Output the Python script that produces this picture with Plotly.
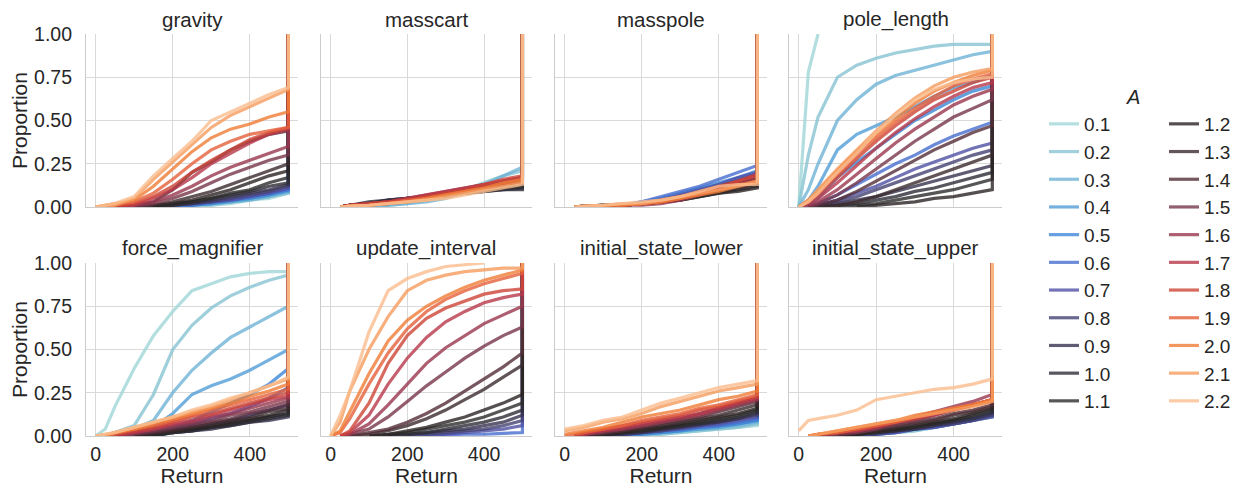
import plotly.graph_objects as go
from plotly.subplots import make_subplots

# ---------------- data ----------------
RETURNS = [0, 25, 50, 100, 150, 200, 250, 300, 350, 400, 450, 500]
MAX_RETURN = 500
FINAL_PROPORTION = 1.0
A_VALUES = ["0.1", "0.2", "0.3", "0.4", "0.5", "0.6", "0.7", "0.8", "0.9", "1.0", "1.1",
            "1.2", "1.3", "1.4", "1.5", "1.6", "1.7", "1.8", "1.9", "2.0", "2.1", "2.2"]
PANEL_TITLES = ["gravity", "masscart", "masspole", "pole_length",
                "force_magnifier", "update_interval", "initial_state_lower", "initial_state_upper"]
X_TICKS = [0, 200, 400]
Y_TICKS = [0, 0.25, 0.5, 0.75, 1.0]
N = None

GRAVITY = [
    [0, 0, 0, 0, 0, 0, 0.01, 0.01, 0.02, 0.04, 0.05, 0.08],
    [0, 0, 0, 0, 0, 0, 0.01, 0.01, 0.03, 0.04, 0.06, 0.08],
    [0, 0, 0, 0, 0, 0, 0.01, 0.02, 0.03, 0.04, 0.06, 0.09],
    [0, 0, 0, 0, 0, 0, 0.01, 0.02, 0.03, 0.05, 0.07, 0.09],
    [0, 0, 0, 0, 0, 0, 0.01, 0.02, 0.04, 0.05, 0.07, 0.10],
    [0, 0, 0, 0, 0, 0.01, 0.01, 0.03, 0.04, 0.06, 0.08, 0.10],
    [0, 0, 0, 0, 0, 0.01, 0.02, 0.03, 0.04, 0.06, 0.08, 0.11],
    [0, 0, 0, 0, 0, 0.01, 0.02, 0.03, 0.05, 0.07, 0.09, 0.12],
    [0, 0, 0, 0, 0, 0.01, 0.02, 0.04, 0.06, 0.08, 0.10, 0.13],
    [0, 0, 0, 0, 0, 0.01, 0.03, 0.05, 0.07, 0.09, 0.12, 0.14],
    [0, 0, 0, 0, 0, 0.02, 0.03, 0.05, 0.08, 0.10, 0.14, 0.17],
    [0, 0, 0, 0, 0.01, 0.02, 0.04, 0.07, 0.10, 0.14, 0.18, 0.21],
    [0, 0, 0, 0, 0.01, 0.03, 0.06, 0.09, 0.13, 0.17, 0.21, 0.25],
    [0, 0, 0, 0.01, 0.03, 0.10, 0.20, 0.26, 0.33, 0.38, 0.42, 0.44],
    [0, 0, 0, 0, 0.02, 0.05, 0.09, 0.14, 0.19, 0.23, 0.27, 0.30],
    [0, 0, 0, 0.01, 0.03, 0.07, 0.12, 0.18, 0.23, 0.27, 0.31, 0.35],
    [0, 0, 0, 0.01, 0.05, 0.10, 0.17, 0.25, 0.31, 0.37, 0.42, 0.45],
    [0, 0, 0, 0.02, 0.06, 0.12, 0.20, 0.27, 0.33, 0.39, 0.43, 0.46],
    [0, 0, 0.01, 0.03, 0.08, 0.16, 0.25, 0.33, 0.38, 0.42, 0.44, 0.46],
    [0, 0.01, 0.02, 0.04, 0.12, 0.22, 0.32, 0.40, 0.45, 0.48, 0.52, 0.55],
    [0, 0.01, 0.01, 0.05, 0.16, 0.26, 0.36, 0.46, 0.53, 0.58, 0.63, 0.68],
    [0, 0.01, 0.02, 0.06, 0.18, 0.28, 0.38, 0.50, 0.55, 0.60, 0.65, 0.69],
]

MASSCART = [
    [0, 0, 0, 0.01, 0.02, 0.03, 0.04, 0.06, 0.09, 0.12, 0.15, 0.17],
    [0, 0, 0, 0, 0.01, 0.02, 0.04, 0.07, 0.10, 0.14, 0.18, 0.21],
    [0, 0, 0, 0, 0.01, 0.02, 0.03, 0.05, 0.09, 0.13, 0.18, 0.23],
    [0, 0, 0.005, 0.01, 0.02, 0.03, 0.05, 0.07, 0.09, 0.12, 0.15, 0.17],
    [0, 0, 0.005, 0.01, 0.02, 0.04, 0.05, 0.07, 0.09, 0.11, 0.13, 0.15],
    [0, 0, 0.01, 0.02, 0.03, 0.04, 0.06, 0.08, 0.10, 0.12, 0.14, 0.16],
    [0, 0, 0.01, 0.02, 0.03, 0.04, 0.05, 0.07, 0.09, 0.11, 0.13, 0.14],
    [0, 0, 0.01, 0.02, 0.04, 0.05, 0.06, 0.07, 0.09, 0.10, 0.11, 0.12],
    [0, 0, 0.01, 0.02, 0.04, 0.05, 0.06, 0.07, 0.08, 0.09, 0.10, 0.11],
    [0, 0, 0.01, 0.03, 0.04, 0.05, 0.06, 0.07, 0.08, 0.09, 0.10, 0.10],
    [0, 0, 0.01, 0.02, 0.03, 0.04, 0.05, 0.06, 0.08, 0.09, 0.11, 0.12],
    [0, 0, 0.01, 0.02, 0.03, 0.04, 0.05, 0.07, 0.08, 0.10, 0.12, 0.14],
    [0, 0, 0.01, 0.02, 0.03, 0.05, 0.06, 0.08, 0.10, 0.12, 0.14, 0.16],
    [0, 0, 0.01, 0.02, 0.03, 0.04, 0.06, 0.08, 0.10, 0.12, 0.13, 0.15],
    [0, 0, 0.01, 0.02, 0.03, 0.04, 0.06, 0.08, 0.10, 0.12, 0.14, 0.16],
    [0, 0, 0.01, 0.02, 0.03, 0.05, 0.07, 0.09, 0.11, 0.13, 0.15, 0.17],
    [0, 0, 0.01, 0.02, 0.03, 0.05, 0.07, 0.09, 0.11, 0.13, 0.15, 0.17],
    [0, 0, 0.01, 0.02, 0.03, 0.04, 0.06, 0.08, 0.10, 0.13, 0.16, 0.18],
    [0, 0, 0.005, 0.01, 0.02, 0.04, 0.05, 0.07, 0.09, 0.11, 0.13, 0.15],
    [0, 0, 0.005, 0.01, 0.02, 0.03, 0.05, 0.07, 0.09, 0.11, 0.14, 0.16],
    [0, 0, 0.005, 0.01, 0.02, 0.03, 0.04, 0.06, 0.08, 0.10, 0.12, 0.14],
    [0, 0, 0.005, 0.01, 0.02, 0.03, 0.04, 0.05, 0.07, 0.09, 0.11, 0.13],
]

MASSPOLE = [
    [0, 0, 0, 0, 0.01, 0.02, 0.03, 0.05, 0.07, 0.10, 0.12, 0.14],
    [0, 0, 0, 0, 0.01, 0.02, 0.03, 0.05, 0.08, 0.11, 0.13, 0.15],
    [0, 0, 0, 0.005, 0.01, 0.02, 0.04, 0.06, 0.09, 0.12, 0.14, 0.16],
    [0, 0, 0, 0.005, 0.01, 0.02, 0.04, 0.07, 0.10, 0.13, 0.16, 0.19],
    [0, 0, 0, 0.005, 0.01, 0.03, 0.05, 0.08, 0.11, 0.14, 0.17, 0.21],
    [0, 0, 0, 0.005, 0.01, 0.03, 0.06, 0.09, 0.12, 0.16, 0.20, 0.24],
    [0, 0, 0, 0.005, 0.01, 0.02, 0.04, 0.07, 0.10, 0.13, 0.17, 0.20],
    [0, 0, 0.005, 0.01, 0.01, 0.02, 0.04, 0.06, 0.09, 0.12, 0.15, 0.18],
    [0, 0, 0.005, 0.01, 0.01, 0.02, 0.03, 0.05, 0.08, 0.11, 0.14, 0.17],
    [0, 0, 0.005, 0.01, 0.01, 0.02, 0.03, 0.05, 0.07, 0.09, 0.12, 0.14],
    [0, 0, 0.005, 0.01, 0.01, 0.02, 0.03, 0.04, 0.06, 0.08, 0.10, 0.12],
    [0, 0, 0.005, 0.01, 0.01, 0.02, 0.03, 0.04, 0.06, 0.08, 0.09, 0.11],
    [0, 0, 0, 0.005, 0.01, 0.02, 0.03, 0.05, 0.07, 0.09, 0.11, 0.13],
    [0, 0, 0, 0.005, 0.01, 0.02, 0.03, 0.05, 0.07, 0.10, 0.13, 0.15],
    [0, 0, 0, 0.005, 0.01, 0.02, 0.03, 0.05, 0.08, 0.11, 0.14, 0.17],
    [0, 0, 0, 0.005, 0.01, 0.01, 0.02, 0.04, 0.07, 0.10, 0.13, 0.16],
    [0, 0, 0, 0.005, 0.01, 0.02, 0.03, 0.05, 0.08, 0.11, 0.15, 0.19],
    [0, 0, 0, 0.005, 0.01, 0.02, 0.04, 0.06, 0.09, 0.12, 0.15, 0.18],
    [0, 0, 0, 0.005, 0.01, 0.02, 0.03, 0.05, 0.08, 0.10, 0.13, 0.15],
    [0, 0, 0.005, 0.01, 0.01, 0.02, 0.03, 0.05, 0.07, 0.09, 0.12, 0.14],
    [0, 0, 0.005, 0.01, 0.02, 0.02, 0.04, 0.06, 0.08, 0.10, 0.12, 0.15],
    [0, 0, 0.005, 0.01, 0.02, 0.03, 0.04, 0.06, 0.09, 0.12, 0.13, 0.13],
]

POLE_LENGTH = [
    [0, 0.78, 1.0, N, N, N, N, N, N, N, N, N],
    [0, 0.30, 0.52, 0.75, 0.82, 0.86, 0.89, 0.91, 0.93, 0.94, 0.94, 0.94],
    [0, 0.10, 0.25, 0.50, 0.62, 0.71, 0.76, 0.79, 0.82, 0.85, 0.88, 0.90],
    [0, 0.04, 0.12, 0.33, 0.42, 0.47, 0.52, 0.58, 0.64, 0.69, 0.72, 0.76],
    [0, 0.01, 0.05, 0.17, 0.26, 0.34, 0.42, 0.50, 0.56, 0.62, 0.67, 0.70],
    [0, 0, 0.02, 0.07, 0.13, 0.19, 0.25, 0.30, 0.36, 0.41, 0.45, 0.49],
    [0, 0, 0.01, 0.04, 0.08, 0.12, 0.17, 0.22, 0.26, 0.30, 0.34, 0.37],
    [0, 0, 0.01, 0.03, 0.06, 0.10, 0.14, 0.18, 0.22, 0.26, 0.30, 0.33],
    [0, 0, 0, 0.02, 0.04, 0.06, 0.09, 0.12, 0.15, 0.18, 0.21, 0.24],
    [0, 0, 0, 0.01, 0.02, 0.04, 0.06, 0.09, 0.11, 0.14, 0.17, 0.20],
    [0, 0, 0, 0, 0.01, 0.02, 0.04, 0.06, 0.08, 0.10, 0.13, 0.16],
    [0, 0, 0, 0, 0, 0.01, 0.02, 0.03, 0.05, 0.06, 0.08, 0.10],
    [0, 0, 0, 0.01, 0.03, 0.06, 0.10, 0.14, 0.18, 0.22, 0.26, 0.30],
    [0, 0, 0.01, 0.04, 0.09, 0.15, 0.21, 0.27, 0.33, 0.38, 0.43, 0.47],
    [0, 0, 0.02, 0.07, 0.14, 0.22, 0.30, 0.38, 0.45, 0.52, 0.57, 0.62],
    [0, 0.01, 0.03, 0.10, 0.19, 0.28, 0.37, 0.45, 0.52, 0.59, 0.64, 0.68],
    [0, 0.02, 0.05, 0.14, 0.24, 0.34, 0.43, 0.51, 0.58, 0.64, 0.69, 0.72],
    [0, 0.03, 0.07, 0.17, 0.28, 0.38, 0.47, 0.55, 0.62, 0.67, 0.72, 0.75],
    [0, 0.03, 0.08, 0.19, 0.30, 0.40, 0.49, 0.57, 0.64, 0.70, 0.74, 0.77],
    [0, 0.04, 0.09, 0.21, 0.32, 0.42, 0.51, 0.60, 0.67, 0.72, 0.76, 0.79],
    [0, 0.04, 0.10, 0.22, 0.33, 0.44, 0.54, 0.63, 0.70, 0.75, 0.78, 0.80],
    [0, 0.03, 0.08, 0.20, 0.31, 0.43, 0.53, 0.62, 0.68, 0.72, 0.74, 0.75],
]

FORCE_MAGNIFIER = [
    [0, 0.04, 0.17, 0.39, 0.58, 0.72, 0.84, 0.88, 0.92, 0.94, 0.95, 0.95],
    [0, 0, 0.02, 0.06, 0.24, 0.50, 0.64, 0.74, 0.81, 0.86, 0.90, 0.93],
    [0, 0, 0.01, 0.04, 0.09, 0.25, 0.38, 0.48, 0.57, 0.63, 0.69, 0.75],
    [0, 0, 0, 0.02, 0.05, 0.13, 0.24, 0.29, 0.33, 0.38, 0.44, 0.50],
    [0, 0, 0, 0, 0.02, 0.05, 0.09, 0.14, 0.19, 0.24, 0.30, 0.39],
    [0, 0, 0, 0, 0.02, 0.04, 0.07, 0.10, 0.13, 0.17, 0.22, 0.28],
    [0, 0, 0, 0, 0.01, 0.03, 0.05, 0.07, 0.09, 0.12, 0.15, 0.18],
    [0, 0, 0, 0, 0, 0.02, 0.03, 0.05, 0.07, 0.09, 0.11, 0.13],
    [0, 0, 0, 0, 0, 0.02, 0.03, 0.04, 0.06, 0.08, 0.09, 0.11],
    [0, 0, 0, 0, 0, 0.02, 0.03, 0.05, 0.06, 0.08, 0.10, 0.12],
    [0, 0, 0, 0, 0.01, 0.02, 0.04, 0.05, 0.07, 0.09, 0.11, 0.13],
    [0, 0, 0, 0, 0.01, 0.03, 0.04, 0.06, 0.08, 0.10, 0.12, 0.15],
    [0, 0, 0, 0, 0.02, 0.03, 0.05, 0.07, 0.09, 0.11, 0.14, 0.16],
    [0, 0, 0, 0.01, 0.02, 0.04, 0.06, 0.08, 0.10, 0.13, 0.15, 0.18],
    [0, 0, 0, 0.01, 0.03, 0.05, 0.07, 0.09, 0.12, 0.14, 0.17, 0.20],
    [0, 0, 0, 0.02, 0.04, 0.06, 0.08, 0.11, 0.13, 0.16, 0.19, 0.22],
    [0, 0, 0, 0.02, 0.04, 0.07, 0.09, 0.12, 0.15, 0.18, 0.21, 0.23],
    [0, 0, 0.01, 0.03, 0.05, 0.08, 0.11, 0.13, 0.16, 0.19, 0.22, 0.25],
    [0, 0, 0.01, 0.04, 0.06, 0.09, 0.12, 0.15, 0.18, 0.21, 0.24, 0.27],
    [0, 0, 0.02, 0.04, 0.07, 0.10, 0.13, 0.16, 0.19, 0.23, 0.26, 0.30],
    [0, 0.01, 0.02, 0.05, 0.08, 0.11, 0.14, 0.17, 0.21, 0.25, 0.29, 0.33],
    [0, 0.01, 0.02, 0.05, 0.08, 0.11, 0.15, 0.18, 0.22, 0.25, 0.29, 0.34],
]

UPDATE_INTERVAL = [
    [N, N, N, N, N, N, N, N, N, N, N, N],
    [N, N, N, N, N, N, N, N, N, N, N, N],
    [N, N, N, N, N, N, N, N, N, N, N, N],
    [N, N, N, N, N, N, N, N, N, N, N, N],
    [N, N, N, N, N, N, N, N, N, N, N, N],
    [0, 0, 0, 0, 0, 0, 0.005, 0.008, 0.01, 0.01, 0.015, 0.02],
    [0, 0, 0, 0, 0, 0, 0, 0.01, 0.02, 0.03, 0.04, 0.06],
    [0, 0, 0, 0, 0, 0, 0.01, 0.02, 0.03, 0.04, 0.06, 0.09],
    [0, 0, 0, 0, 0, 0.01, 0.02, 0.03, 0.04, 0.06, 0.08, 0.12],
    [0, 0, 0, 0, 0, 0.01, 0.02, 0.04, 0.06, 0.08, 0.11, 0.15],
    [0, 0, 0, 0, 0.01, 0.02, 0.04, 0.06, 0.08, 0.11, 0.15, 0.19],
    [0, 0, 0, 0, 0.01, 0.03, 0.05, 0.08, 0.11, 0.15, 0.19, 0.24],
    [0, 0, 0, 0.01, 0.03, 0.06, 0.10, 0.15, 0.21, 0.27, 0.34, 0.41],
    [0, 0, 0, 0.02, 0.04, 0.08, 0.13, 0.19, 0.26, 0.33, 0.40, 0.48],
    [0, 0, 0.01, 0.04, 0.11, 0.20, 0.29, 0.37, 0.45, 0.52, 0.58, 0.63],
    [0, 0, 0.01, 0.07, 0.18, 0.30, 0.42, 0.51, 0.58, 0.65, 0.70, 0.75],
    [0, 0, 0.02, 0.12, 0.30, 0.45, 0.57, 0.66, 0.72, 0.77, 0.80, 0.82],
    [0, 0, 0.03, 0.19, 0.42, 0.58, 0.68, 0.74, 0.78, 0.82, 0.84, 0.85],
    [0, 0.02, 0.10, 0.30, 0.48, 0.62, 0.72, 0.79, 0.84, 0.88, 0.91, 0.94],
    [0, 0.03, 0.14, 0.36, 0.55, 0.67, 0.75, 0.81, 0.86, 0.90, 0.93, 0.96],
    [0, 0.08, 0.26, 0.50, 0.69, 0.84, 0.90, 0.93, 0.95, 0.96, 0.97, 0.97],
    [0, 0.12, 0.26, 0.60, 0.84, 0.91, 0.95, 0.98, 0.99, 1.0, N, N],
]

INITIAL_STATE_LOWER = [
    [0, 0, 0, 0, 0, 0, 0.01, 0.02, 0.03, 0.04, 0.05, 0.06],
    [0, 0, 0, 0, 0, 0, 0.01, 0.02, 0.03, 0.04, 0.05, 0.07],
    [0, 0, 0, 0, 0, 0.01, 0.02, 0.03, 0.04, 0.05, 0.06, 0.08],
    [0, 0, 0, 0, 0, 0.01, 0.02, 0.03, 0.04, 0.05, 0.07, 0.09],
    [0, 0, 0, 0, 0, 0.01, 0.02, 0.03, 0.05, 0.06, 0.07, 0.09],
    [0, 0, 0, 0, 0, 0.02, 0.03, 0.04, 0.05, 0.06, 0.08, 0.10],
    [0, 0, 0, 0, 0.01, 0.02, 0.03, 0.04, 0.06, 0.07, 0.09, 0.11],
    [0, 0, 0, 0, 0.01, 0.02, 0.03, 0.05, 0.06, 0.08, 0.10, 0.12],
    [0, 0, 0, 0, 0.01, 0.02, 0.04, 0.05, 0.07, 0.08, 0.10, 0.13],
    [0, 0, 0, 0, 0.02, 0.03, 0.04, 0.06, 0.07, 0.09, 0.11, 0.14],
    [0, 0, 0, 0.01, 0.02, 0.03, 0.05, 0.06, 0.08, 0.10, 0.12, 0.15],
    [0, 0, 0, 0.01, 0.02, 0.04, 0.05, 0.07, 0.09, 0.11, 0.13, 0.16],
    [0, 0, 0, 0.01, 0.03, 0.04, 0.06, 0.08, 0.10, 0.12, 0.15, 0.18],
    [0, 0, 0, 0.02, 0.03, 0.05, 0.07, 0.09, 0.11, 0.14, 0.17, 0.20],
    [0, 0, 0.01, 0.02, 0.04, 0.06, 0.08, 0.10, 0.13, 0.16, 0.19, 0.22],
    [0, 0, 0.01, 0.03, 0.04, 0.06, 0.08, 0.10, 0.12, 0.15, 0.18, 0.21],
    [0, 0, 0.01, 0.03, 0.05, 0.07, 0.09, 0.11, 0.13, 0.16, 0.19, 0.22],
    [0, 0, 0.02, 0.04, 0.06, 0.08, 0.10, 0.12, 0.15, 0.17, 0.20, 0.23],
    [0, 0.01, 0.02, 0.04, 0.06, 0.09, 0.11, 0.13, 0.16, 0.18, 0.21, 0.24],
    [0.01, 0.02, 0.03, 0.05, 0.08, 0.11, 0.13, 0.15, 0.18, 0.21, 0.23, 0.26],
    [0.03, 0.04, 0.05, 0.08, 0.10, 0.13, 0.17, 0.20, 0.23, 0.26, 0.28, 0.30],
    [0.04, 0.05, 0.06, 0.09, 0.11, 0.15, 0.19, 0.22, 0.25, 0.28, 0.30, 0.32],
]

INITIAL_STATE_UPPER = [
    [0, 0, 0, 0, 0, 0.01, 0.02, 0.03, 0.05, 0.07, 0.09, 0.11],
    [0, 0, 0, 0, 0, 0.01, 0.02, 0.03, 0.05, 0.07, 0.09, 0.12],
    [0, 0, 0, 0, 0, 0.01, 0.02, 0.04, 0.05, 0.07, 0.09, 0.11],
    [0, 0, 0, 0, 0, 0.01, 0.03, 0.04, 0.06, 0.08, 0.10, 0.12],
    [0, 0, 0, 0, 0, 0.02, 0.03, 0.04, 0.06, 0.08, 0.10, 0.13],
    [0, 0, 0, 0, 0, 0.01, 0.02, 0.04, 0.05, 0.07, 0.09, 0.12],
    [0, 0, 0, 0, 0, 0.01, 0.02, 0.04, 0.05, 0.07, 0.09, 0.11],
    [0, 0, 0, 0, 0, 0.01, 0.03, 0.04, 0.06, 0.07, 0.09, 0.12],
    [0, 0, 0, 0, 0.01, 0.02, 0.03, 0.04, 0.06, 0.08, 0.10, 0.13],
    [0, 0, 0, 0, 0.01, 0.02, 0.03, 0.05, 0.07, 0.09, 0.11, 0.14],
    [0, 0, 0, 0, 0.01, 0.02, 0.04, 0.05, 0.07, 0.09, 0.12, 0.15],
    [0, 0, 0, 0, 0.01, 0.03, 0.04, 0.06, 0.08, 0.10, 0.13, 0.16],
    [0, 0, 0, 0, 0.02, 0.03, 0.05, 0.07, 0.09, 0.12, 0.14, 0.17],
    [0, 0, 0, 0.01, 0.02, 0.04, 0.06, 0.08, 0.10, 0.13, 0.15, 0.18],
    [0, 0, 0, 0.01, 0.02, 0.04, 0.07, 0.09, 0.12, 0.15, 0.18, 0.21],
    [0, 0, 0, 0.02, 0.03, 0.05, 0.08, 0.11, 0.14, 0.17, 0.20, 0.24],
    [0, 0, 0, 0.02, 0.03, 0.05, 0.08, 0.10, 0.12, 0.15, 0.18, 0.21],
    [0, 0, 0.01, 0.02, 0.04, 0.06, 0.08, 0.10, 0.13, 0.15, 0.18, 0.20],
    [0, 0, 0.01, 0.02, 0.04, 0.06, 0.08, 0.11, 0.13, 0.16, 0.18, 0.21],
    [0, 0, 0.01, 0.03, 0.05, 0.07, 0.09, 0.12, 0.14, 0.16, 0.18, 0.21],
    [0, 0, 0.01, 0.03, 0.05, 0.07, 0.09, 0.11, 0.13, 0.15, 0.17, 0.20],
    [0.03, 0.09, 0.10, 0.12, 0.15, 0.21, 0.23, 0.25, 0.27, 0.28, 0.30, 0.33],
]

# icefire palette (22 colours)
COLORS = ["#a1d7d8", "#87c4d3", "#6fb3d6", "#539ed7", "#3d87d8", "#476ece", "#5051a6",
          "#464274", "#373350", "#2e2d37", "#2d2d2d", "#2b2424", "#3c2b2e", "#542e38",
          "#78374b", "#99374e", "#b8384a", "#ce4538", "#e5603b", "#f07d37", "#f69c5e", "#fbbe8f"]

PANEL_DATA = [GRAVITY, MASSCART, MASSPOLE, POLE_LENGTH,
              FORCE_MAGNIFIER, UPDATE_INTERVAL, INITIAL_STATE_LOWER, INITIAL_STATE_UPPER]

# ---------------- figure ----------------
# the page body has an 8px margin, so the figure is 8px smaller on each side
OFF = 8
W, H = 1241 - OFF, 487 - OFF
FONT = "Liberation Sans, Arial, sans-serif"
TXT = "#262626"
GRID = "#d9d9d9"

fig = make_subplots(rows=2, cols=4)

# positions in page pixels (converted to figure pixels below)
col_px = [(86, 298), (321, 532), (555, 767), (789, 1002)]
row_px = [(34, 207), (263, 436)]


def fx(px):
    return (px - OFF) / W


def fy(py):
    return 1 - (py - OFF) / H


def series_points(vals):
    xs, ys = [], []
    first = 0
    # keep only the last zero before the curve starts rising
    while first + 1 < len(vals) and vals[first + 1] == 0:
        first += 1
    for r, v in zip(RETURNS[first:], vals[first:]):
        if v is not None:
            xs.append(r)
            ys.append(v)
    if xs and xs[-1] == MAX_RETURN and ys[-1] < FINAL_PROPORTION:
        xs.append(MAX_RETURN)
        ys.append(FINAL_PROPORTION)
    return xs, ys


for p, (title, data) in enumerate(zip(PANEL_TITLES, PANEL_DATA)):
    r, c = p // 4 + 1, p % 4 + 1
    for i, a in enumerate(A_VALUES):
        xs, ys = series_points(data[i])
        fig.add_trace(go.Scatter(
            x=xs, y=ys, mode="lines",
            line=dict(color=COLORS[i], width=3.2),
            opacity=0.8,
            name=a, legendgroup=a,
            legend="legend" if i < 11 else "legend2",
            showlegend=(p == 0),
            hoverinfo="skip",
        ), row=r, col=c)

for p, title in enumerate(PANEL_TITLES):
    r, c = p // 4, p % 4
    x0, x1 = col_px[c]
    y0, y1 = row_px[r]
    ax = "" if p == 0 else str(p + 1)
    fig.layout["xaxis" + ax].update(
        domain=[fx(x0), fx(x1)], range=[-25, 525], automargin=False,
        tickvals=X_TICKS, showticklabels=(r == 1),
        showgrid=True, gridcolor=GRID, gridwidth=1,
        showline=True, linecolor="#cccccc", linewidth=1.2,
        zeroline=False, ticks="", ticklabelstandoff=0,
        tickfont=dict(family=FONT, size=19.5, color=TXT),
        title=dict(text="Return" if r == 1 else "", font=dict(family=FONT, size=21, color=TXT), standoff=4),
    )
    fig.layout["yaxis" + ax].update(
        domain=[fy(y1), fy(y0)], range=[0, 1], automargin=False,
        tickvals=Y_TICKS, ticktext=["%.2f" % t for t in Y_TICKS], showticklabels=(c == 0),
        showgrid=True, gridcolor=GRID, gridwidth=1,
        showline=True, linecolor="#cccccc", linewidth=1.2,
        zeroline=False, ticks="", ticklabelstandoff=9,
        tickfont=dict(family=FONT, size=19.5, color=TXT),
        title=dict(text="Proportion" if c == 0 else "", font=dict(family=FONT, size=21, color=TXT), standoff=0),
    )
    fig.add_annotation(
        text=title, xref="paper", yref="paper",
        x=fx((x0 + x1) / 2), y=fy(y0), xanchor="center", yanchor="bottom",
        yshift=1, showarrow=False, font=dict(family=FONT, size=20.5, color=TXT),
    )

fig.add_annotation(text="<i>A</i>", xref="paper", yref="paper", x=fx(1133), y=fy(97),
                   xanchor="center", yanchor="middle", showarrow=False,
                   font=dict(family=FONT, size=20, color=TXT))

legend_common = dict(xanchor="left", yanchor="top", bgcolor="rgba(0,0,0,0)",
                     font=dict(family=FONT, size=19, color=TXT), tracegroupgap=0,
                     traceorder="grouped", itemclick=False, itemdoubleclick=False)
fig.update_layout(
    width=W, height=H, margin=dict(l=0, r=0, t=0, b=0),
    paper_bgcolor="white", plot_bgcolor="white",
    legend=dict(x=fx(1044), y=fy(105), **legend_common),
    legend2=dict(x=fx(1164), y=fy(105), **legend_common),
)

fig.write_html("out.html")
